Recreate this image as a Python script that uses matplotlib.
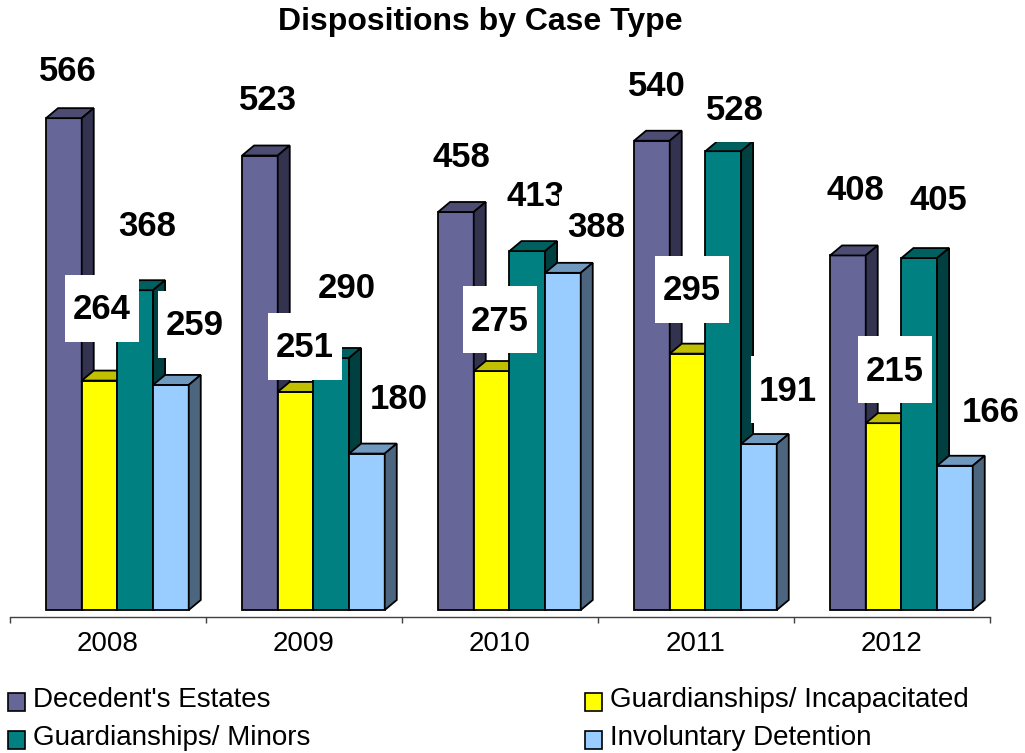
import matplotlib.pyplot as plt
from matplotlib.patches import Rectangle, Polygon

years = ['2008', '2009', '2010', '2011', '2012']
names = ["Decedent's Estates", 'Guardianships/ Incapacitated',
         'Guardianships/ Minors', 'Involuntary Detention']
decedent = [566, 523, 458, 540, 408]
incapacitated = [264, 251, 275, 295, 215]
minors = [368, 290, 413, 528, 405]
involuntary = [259, 180, 388, 191, 166]
values = [decedent, incapacitated, minors, involuntary]

# front / top / side colours for each series
front = ['#666699', '#ffff00', '#008080', '#99ccff']
top = ['#4d4d73', '#c0c000', '#006060', '#7099c0']
side = ['#333350', '#808000', '#004040', '#4d6680']

# label offsets from the bar's front-top centre, in pixels (right, up)
lab_dx = [[4, 8, 6, 5, 8], [2, 9, 8, 4, 11], [12, 16, 8, 12, 19], [24, 32, 33, 29, 36]]
lab_up = [[50, 58, 57, 57, 68], [74, 47, 53, 66, 55], [67, 72, 58, 44, 61], [62, 57, 48, 56, 56]]

plt.rcParams['font.family'] = ['Liberation Sans', 'DejaVu Sans']

W, H = 1025, 753
PX = 196.0   # pixels per year group
PY = 0.869   # pixels per unit
fig = plt.figure(figsize=(W / 100, H / 100), dpi=100)
ax = fig.add_axes([10 / W, (H - 617) / H, 980 / W, 577 / H])
ax.set_xlim(0, 5)
ax.set_ylim(-7 / PY, 570 / PY)

bw = 0.182
off0 = 0.184
ddx = 12 / PX
ddy = 10 / PY

for j in range(len(years)):
    for i, vals in enumerate(values):
        v = vals[j]
        x0 = j + off0 + i * bw
        z = 2 + j * 10 + i
        ax.add_patch(Rectangle((x0, 0), bw, v, fc=front[i], ec='black', lw=1.3, zorder=z))
        ax.add_patch(Polygon([(x0, v), (x0 + ddx, v + ddy), (x0 + bw + ddx, v + ddy), (x0 + bw, v)],
                             closed=True, fc=top[i], ec='black', lw=1.3, zorder=z))
        ax.add_patch(Polygon([(x0 + bw, 0), (x0 + bw + ddx, ddy), (x0 + bw + ddx, v + ddy), (x0 + bw, v)],
                             closed=True, fc=side[i], ec='black', lw=1.3, zorder=z))

# data labels with white boxes
for i, vals in enumerate(values):
    for j, v in enumerate(vals):
        cx = j + off0 + i * bw + bw / 2 + lab_dx[i][j] / PX
        cy = v + lab_up[i][j] / PY
        ax.add_patch(Rectangle((cx - 37 / PX, cy - 35 / PY), 74 / PX, 67 / PY,
                               fc='white', ec='none', zorder=200 + i * 2, clip_on=False))
        ax.text(cx, cy - 12.5 / PY, str(v), ha='center', va='baseline', fontsize=25,
                fontweight='bold', zorder=201 + i * 2, clip_on=False)

for s in ['top', 'left', 'right']:
    ax.spines[s].set_visible(False)
ax.spines['bottom'].set_linewidth(1.0)
ax.spines['bottom'].set_color('#404040')
ax.set_yticks([])
ax.set_xticks(range(6))
ax.set_xticklabels([])
ax.set_xticks([k + 0.5 for k in range(5)], minor=True)
ax.set_xticklabels(years, minor=True, fontsize=20)
ax.tick_params(axis='x', which='major', direction='out', length=4.5, width=1, color='#404040')
ax.tick_params(axis='x', which='minor', length=0, pad=10)

fig.text(480 / W, 1 - 22 / H, 'Dispositions by Case Type', ha='center', va='center',
         fontsize=23, fontweight='bold')

# legend
leg_pos = [(8, 702), (585, 702), (8, 740), (585, 740)]
for i, (lx, ly) in enumerate(leg_pos):
    fig.patches.append(Rectangle((lx / W, 1 - (ly + 9) / H), 17 / W, 18 / H, transform=fig.transFigure,
                                 fc=front[i], ec='black', lw=1.2))
    fig.text((lx + 25) / W, 1 - (ly - 2) / H, names[i], ha='left', va='center', fontsize=20)

fig.savefig('out.png', dpi=100)
